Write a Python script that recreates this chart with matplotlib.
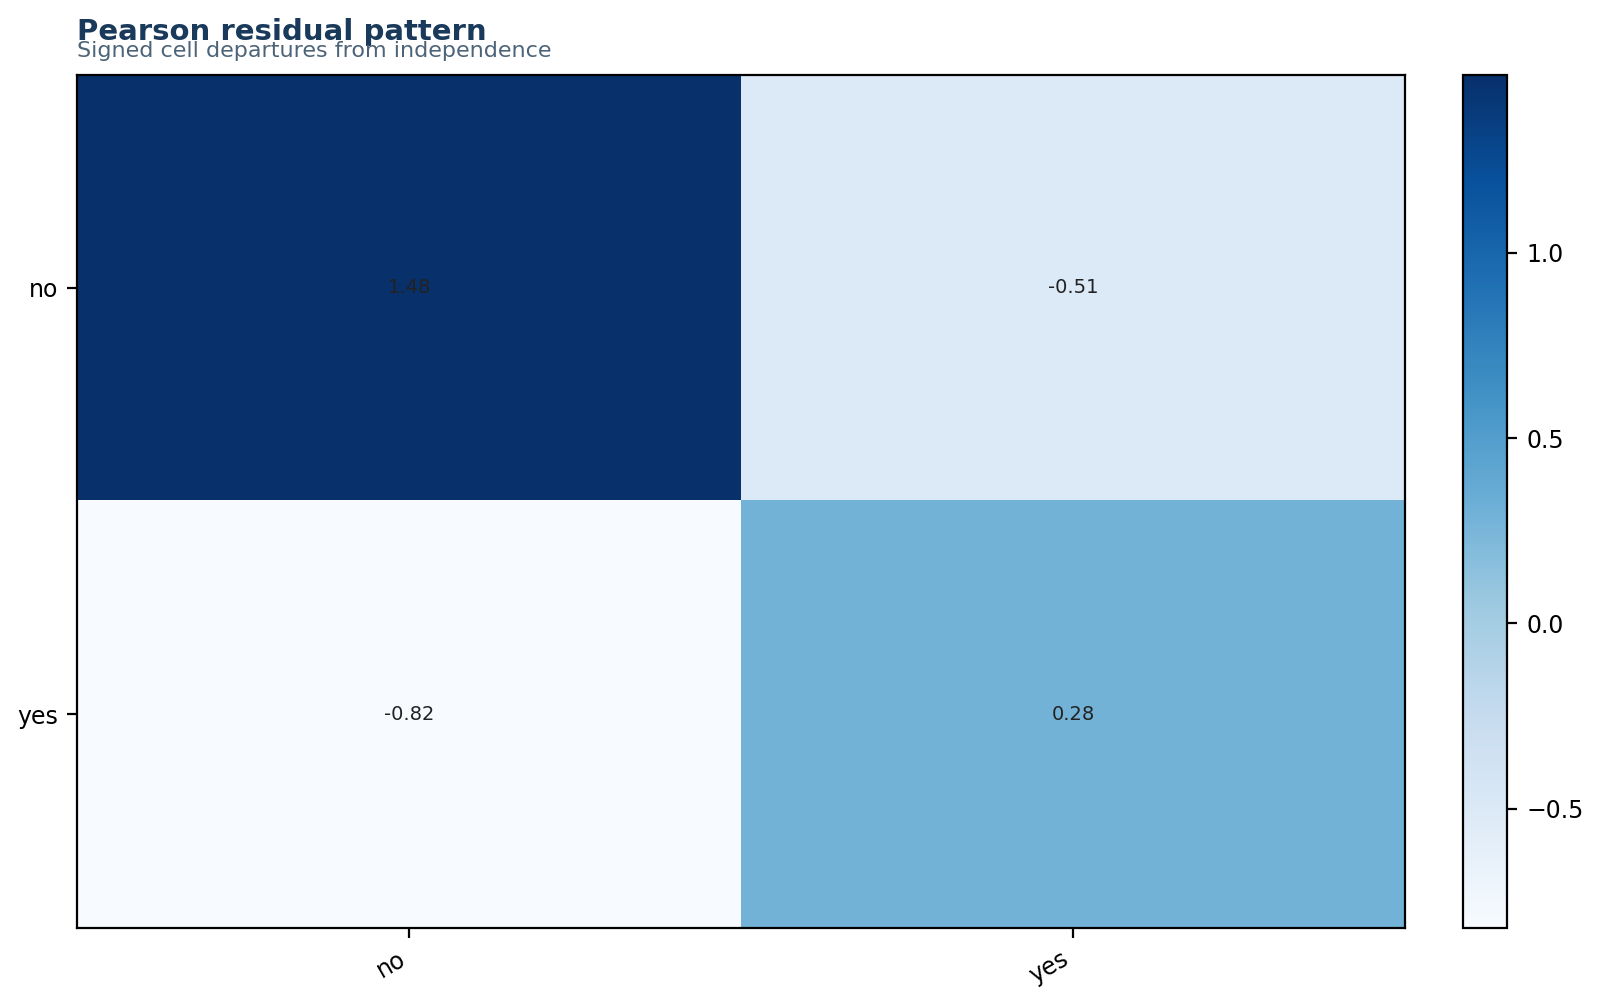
import numpy as np
import matplotlib
matplotlib.use('Agg')
import matplotlib.pyplot as plt

# categorias de filas y columnas
filas = ['no', 'yes']
columnas = ['no', 'yes']
# residuos de Pearson
residuos = np.array([[1.48, -0.51],
                     [-0.82, 0.28]])

fig = plt.figure(figsize=(8, 5.01), dpi=200)
ax = fig.add_axes([0.0484, 0.0743, 0.8297, 0.8513])
cax = fig.add_axes([0.9144, 0.0743, 0.0275, 0.8513])

im = ax.imshow(residuos, cmap='Blues', aspect='auto',
               vmin=residuos.min(), vmax=residuos.max())
ax.set_xticks(range(len(columnas)))
ax.set_xticklabels(columnas, rotation=30, ha='right')
ax.set_yticks(range(len(filas)))
ax.set_yticklabels(filas)
ax.tick_params(labelsize=8.5)

for i in range(len(filas)):
    for j in range(len(columnas)):
        ax.text(j, i, '{:.2f}'.format(residuos[i, j]), ha='center', va='center',
                fontsize=7, color='#222222')

cb = fig.colorbar(im, cax=cax)
cb.ax.tick_params(labelsize=8.5)

fig.text(0.0484, 0.960, 'Pearson residual pattern', fontsize=10.5, fontweight='bold',
         color='#1a3a5c', ha='left', va='baseline')
fig.text(0.0484, 0.943, 'Signed cell departures from independence', fontsize=8,
         color='#4d6478', ha='left', va='baseline')

fig.savefig('out.png', dpi=200)
